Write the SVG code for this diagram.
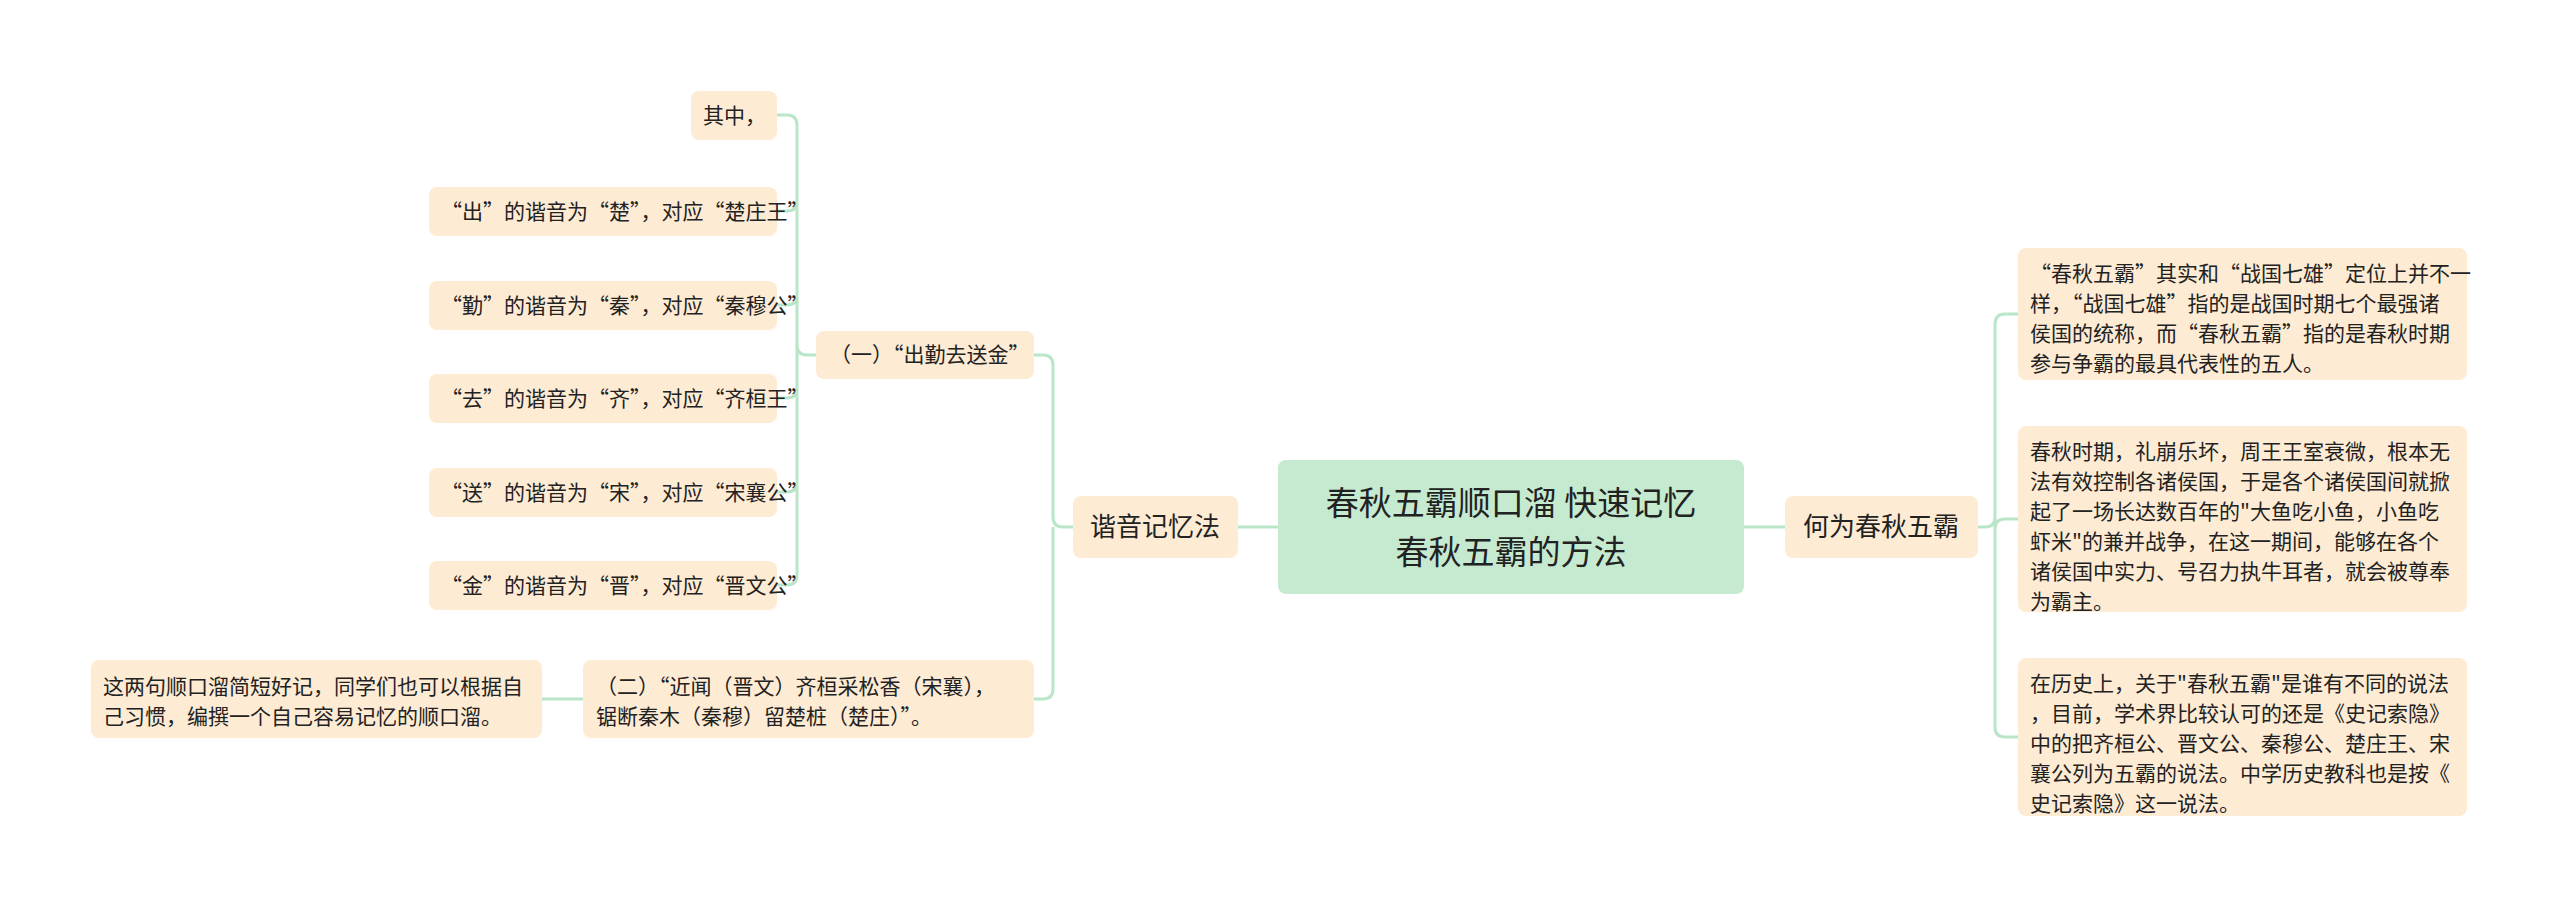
<svg xmlns="http://www.w3.org/2000/svg" width="2560" height="911" viewBox="0 0 2560 911">
<style>
.c{fill:none;stroke:#b9e6c8;stroke-width:3}
.n{fill:#fdebd4}
.t{font-family:"Noto Sans CJK SC","Noto Sans",sans-serif;font-size:21px;fill:#222}
.m{font-family:"Noto Sans CJK SC","Noto Sans",sans-serif;font-size:26px;fill:#222}
</style>
<rect width="2560" height="911" fill="#fff"/>
<g id="connectors">
<path class="c" d="M1238 527H1278M1744 527H1785"/>
<path class="c" d="M1978 527H1985Q1995 527 1995 517V324Q1995 314 2005 314H2018M1995 517V529Q1995 519 2005 519H2018M1995 527V727Q1995 737 2005 737H2018"/>
<path class="c" d="M1073 527H1063Q1053 527 1053 517V365Q1053 355 1043 355H1034M1053 527V689Q1053 699 1043 699H1034"/>
<path class="c" d="M1034 699H1034M583 699H542"/>
<path class="c" d="M816 355H807Q797 355 797 345V125Q797 115 787 115H777M797 355V201Q797 211 787 211H777M797 355V295Q797 305 787 305H777M797 355V388Q797 398 787 398H777M797 355V482Q797 492 787 492H777M797 355V575Q797 585 787 585H777"/>
</g>
<g id="root"><rect x="1278" y="460" width="466" height="134" rx="8" fill="#c5ead0"/>
<text x="1511" y="515" text-anchor="middle" font-family="Noto Sans CJK SC,sans-serif" font-size="33" fill="#222">春秋五霸顺口溜 快速记忆</text>
<text x="1511" y="564" text-anchor="middle" font-family="Noto Sans CJK SC,sans-serif" font-size="33" fill="#222">春秋五霸的方法</text></g>
<g id="what"><rect class="n" x="1785" y="496" width="193" height="62" rx="8"/><text class="m" x="1881" y="536" text-anchor="middle">何为春秋五霸</text></g>
<g id="xieyin"><rect class="n" x="1073" y="496" width="165" height="62" rx="8"/><text class="m" x="1155" y="536" text-anchor="middle">谐音记忆法</text></g>
<g id="a"><rect class="n" x="2018" y="248" width="449" height="132" rx="8"/>
<text class="t" x="2030" y="281">“春秋五霸”其实和“战国七雄”定位上并不一</text>
<text class="t" x="2030" y="311">样，“战国七雄”指的是战国时期七个最强诸</text>
<text class="t" x="2030" y="341">侯国的统称，而“春秋五霸”指的是春秋时期</text>
<text class="t" x="2030" y="371">参与争霸的最具代表性的五人。</text></g>
<g id="b"><rect class="n" x="2018" y="426" width="449" height="186" rx="8"/>
<text class="t" x="2030" y="459">春秋时期，礼崩乐坏，周王王室衰微，根本无</text>
<text class="t" x="2030" y="489">法有效控制各诸侯国，于是各个诸侯国间就掀</text>
<text class="t" x="2030" y="519">起了一场长达数百年的"大鱼吃小鱼，小鱼吃</text>
<text class="t" x="2030" y="549">虾米"的兼并战争，在这一期间，能够在各个</text>
<text class="t" x="2030" y="579">诸侯国中实力、号召力执牛耳者，就会被尊奉</text>
<text class="t" x="2030" y="609">为霸主。</text></g>
<g id="c"><rect class="n" x="2018" y="658" width="449" height="158" rx="8"/>
<text class="t" x="2030" y="691">在历史上，关于"春秋五霸"是谁有不同的说法</text>
<text class="t" x="2030" y="721">，目前，学术界比较认可的还是《史记索隐》</text>
<text class="t" x="2030" y="751">中的把齐桓公、晋文公、秦穆公、楚庄王、宋</text>
<text class="t" x="2030" y="781">襄公列为五霸的说法。中学历史教科也是按《</text>
<text class="t" x="2030" y="811">史记索隐》这一说法。</text></g>
<g id="one"><rect class="n" x="816" y="331" width="218" height="48" rx="8"/><text class="t" x="830" y="362">（一）“出勤去送金”</text></g>
<g id="qizhong"><rect class="n" x="691" y="91" width="86" height="49" rx="8"/><text class="t" x="703" y="123">其中，</text></g>
<g id="l1"><rect class="n" x="429" y="187" width="348" height="49" rx="8"/><text class="t" x="441" y="219">“出”的谐音为“楚”，对应“楚庄王”</text></g>
<g id="l2"><rect class="n" x="429" y="281" width="348" height="49" rx="8"/><text class="t" x="441" y="313">“勤”的谐音为“秦”，对应“秦穆公”</text></g>
<g id="l3"><rect class="n" x="429" y="374" width="348" height="49" rx="8"/><text class="t" x="441" y="406">“去”的谐音为“齐”，对应“齐桓王”</text></g>
<g id="l4"><rect class="n" x="429" y="468" width="348" height="49" rx="8"/><text class="t" x="441" y="500">“送”的谐音为“宋”，对应“宋襄公”</text></g>
<g id="l5"><rect class="n" x="429" y="561" width="348" height="49" rx="8"/><text class="t" x="441" y="593">“金”的谐音为“晋”，对应“晋文公”</text></g>
<g id="two"><rect class="n" x="583" y="660" width="451" height="78" rx="8"/>
<text class="t" x="596" y="694">（二）“近闻（晋文）齐桓采松香（宋襄），</text>
<text class="t" x="596" y="724">锯断秦木（秦穆）留楚桩（楚庄）”。</text></g>
<g id="note"><rect class="n" x="91" y="660" width="451" height="78" rx="8"/>
<text class="t" x="103" y="694">这两句顺口溜简短好记，同学们也可以根据自</text>
<text class="t" x="103" y="724">己习惯，编撰一个自己容易记忆的顺口溜。</text></g>
</svg>
